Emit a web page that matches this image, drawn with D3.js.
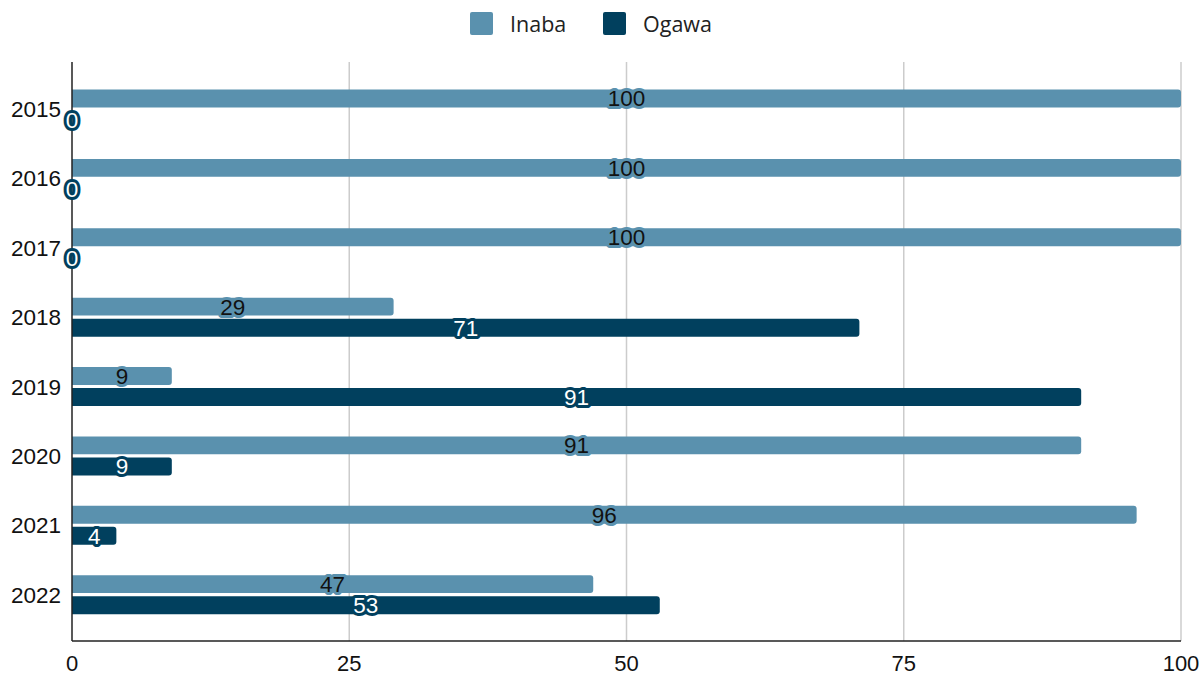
<!DOCTYPE html>
<html><head><meta charset="utf-8">
<script src="https://cdn.jsdelivr.net/npm/d3@7"></script>
<style>body{margin:0;background:#fff}svg{display:block;font-family:"Liberation Sans",Arial,sans-serif}</style>
</head><body><svg width="1204" height="677"></svg>
<script>
const years = ["2015","2016","2017","2018","2019","2020","2021","2022"];
const seriesNames = ["Inaba","Ogawa"];
const inaba = [100,100,100,29,9,91,96,47];
const ogawa = [0,0,0,71,91,9,4,53];
const xTicks = [0,25,50,75,100];
const colors = {Inaba:"#5a91ae", Ogawa:"#01405e"};

(function(){
const svg = d3.select("svg");
const x = d3.scaleLinear().domain([0,100]).range([72,1181]);
const y = d3.scaleBand().domain(years).range([74.5,629.5]);
const yi = d3.scaleBand().domain(seriesNames).range([15,54]).paddingInner(0.15);
const plotTop = 62, plotBottom = 641;

svg.append("g").selectAll("line").data(xTicks.filter(d=>d>0)).join("line")
  .attr("x1",d=>x(d)).attr("x2",d=>x(d)).attr("y1",plotTop).attr("y2",plotBottom)
  .attr("stroke","#cccccc").attr("stroke-width",1.5);

const rows = years.map((yr,i)=>({year:yr, vals:[{s:"Inaba",v:inaba[i]},{s:"Ogawa",v:ogawa[i]}]}));

function barPath(x0,x1,y0,h,r){
  const w = x1-x0;
  if (w<=0) return "";
  r = Math.min(r,w,h/2);
  return `M${x0},${y0}H${x1-r}Q${x1},${y0} ${x1},${y0+r}V${y0+h-r}Q${x1},${y0+h} ${x1-r},${y0+h}H${x0}Z`;
}

const g = svg.append("g");
rows.forEach(row=>{
  row.vals.forEach(d=>{
    g.append("path")
      .attr("d", barPath(x(0), x(d.v), y(row.year)+yi(d.s), yi.bandwidth(), 3))
      .attr("fill", colors[d.s]);
  });
});

svg.append("line").attr("x1",72).attr("x2",72).attr("y1",plotTop).attr("y2",plotBottom).attr("stroke","#222").attr("stroke-width",1.5);
svg.append("line").attr("x1",72).attr("x2",1181).attr("y1",plotBottom).attr("y2",plotBottom).attr("stroke","#222").attr("stroke-width",1.5);

svg.append("g").selectAll("text").data(xTicks).join("text")
  .attr("x",d=>x(d)).attr("y",671).attr("text-anchor","middle")
  .attr("font-size",22).attr("fill","#111").text(d=>d);

svg.append("g").selectAll("text").data(years).join("text")
  .attr("x",61).attr("y",d=>y(d)+34.5+8).attr("text-anchor","end")
  .attr("font-size",22.5).attr("fill","#111").text(d=>d);

const lg = svg.append("g");
rows.forEach(row=>{
  row.vals.forEach(d=>{
    const cx = x(d.v/2), cy = y(row.year)+yi(d.s)+yi.bandwidth()/2+8;
    lg.append("text").attr("x",cx).attr("y",cy).attr("text-anchor","middle")
      .attr("font-size",22.5).attr("stroke",colors[d.s]).attr("stroke-width",6)
      .attr("stroke-linejoin","round").attr("fill",colors[d.s]).text(d.v);
    lg.append("text").attr("x",cx).attr("y",cy).attr("text-anchor","middle")
      .attr("font-size",22.5).attr("fill", d.s==="Inaba" ? "#111" : "#fff").text(d.v);
  });
});

const leg = svg.append("g");
const legItems = [{s:"Inaba",x:470},{s:"Ogawa",x:603}];
legItems.forEach(it=>{
  leg.append("rect").attr("x",it.x).attr("y",12).attr("width",23).attr("height",23).attr("rx",2).attr("fill",colors[it.s]);
  leg.append("text").attr("x",it.x+40).attr("y",32).attr("font-size",21.5).attr("fill","#222")
    .attr("font-family","'Open Sans',sans-serif").text(it.s);
});
})();
</script></body></html>
